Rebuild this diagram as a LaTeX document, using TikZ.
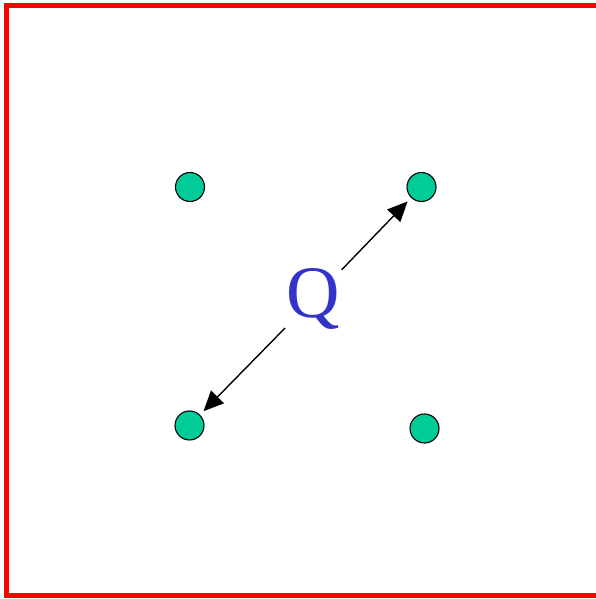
\documentclass[tikz,border=0pt]{standalone}
\usepackage{fontspec}
\setmainfont{Liberation Serif}
\usetikzlibrary{arrows.meta}
\definecolor{dotgreen}{RGB}{0,204,153}
\definecolor{qblue}{RGB}{51,51,204}
\definecolor{framered}{RGB}{255,0,0}
\tikzset{
  dot/.style={circle, draw=black, line width=1.1pt, fill=dotgreen, minimum size=29pt, inner sep=0pt},
  qlabel/.style={circle, text=qblue, inner sep=0pt, minimum size=66pt, font=\fontsize{74}{80}\selectfont},
  link/.style={draw=black, line width=1.4pt, -{Triangle[length=20pt,width=18pt]}, shorten >=5pt}
}
\begin{document}
\begin{tikzpicture}[x=1pt,y=1pt]
\useasboundingbox (0,0) rectangle (595,599);
\draw[framered, line width=5pt] (6.5,3) rectangle (602,593.5);
\node[dot] (c1) at (190,412) {};
\node[dot] (c2) at (421.5,412) {};
\node[dot] (c3) at (189.5,173.5) {};
\node[dot] (c4) at (424.5,170.5) {};
\node[qlabel] (q) at (313.5,300) {Q};
\draw[link] (q) -- (c2);
\draw[link] (q) -- (c3);
\end{tikzpicture}
\end{document}
